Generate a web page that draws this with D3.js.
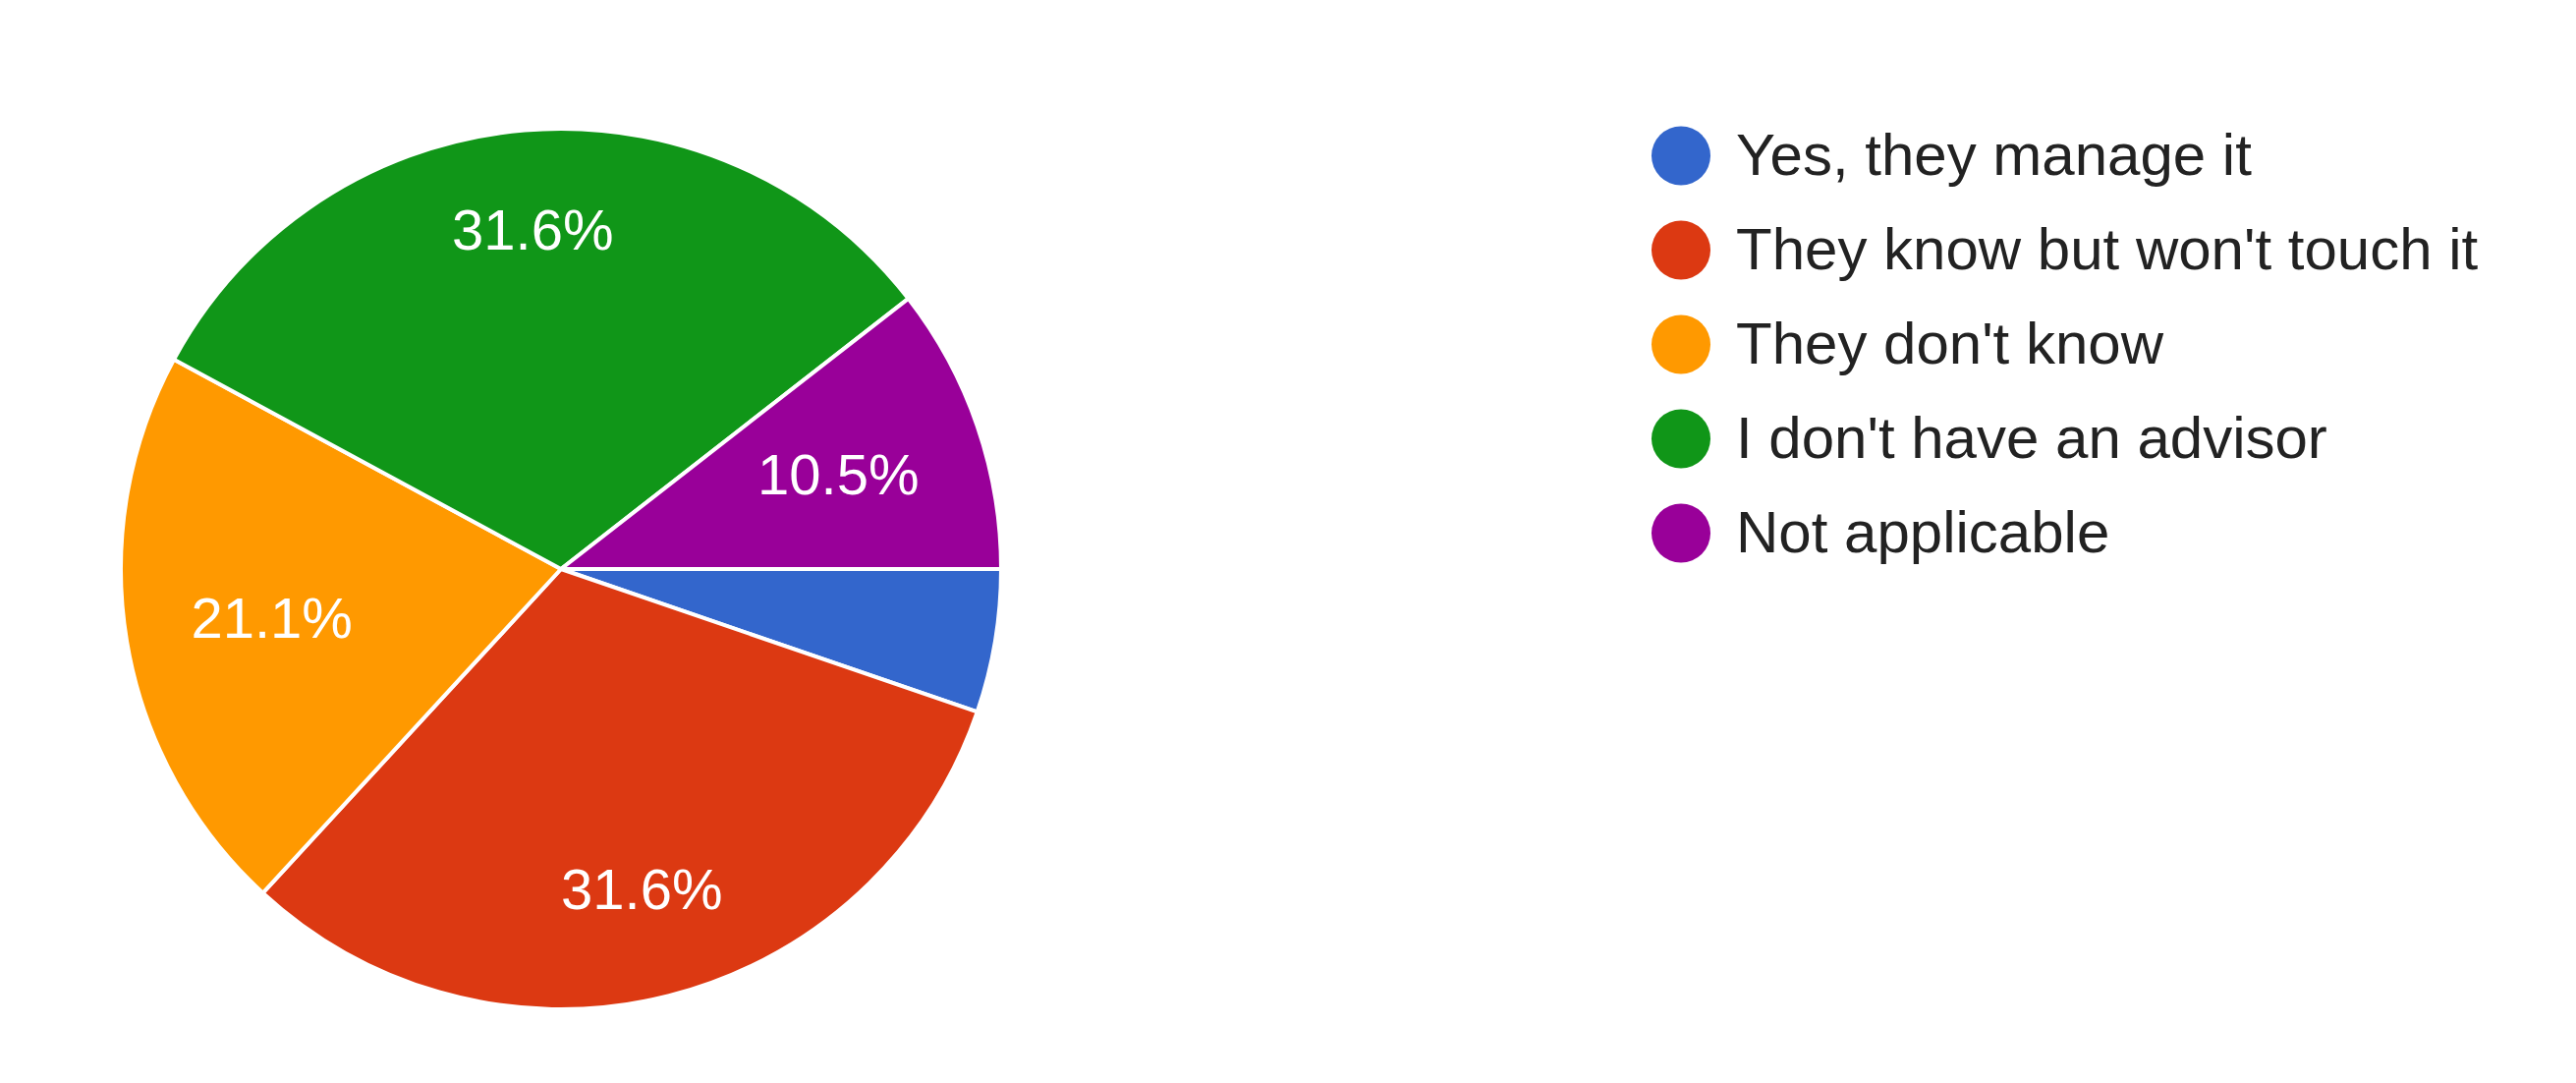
<!DOCTYPE html>
<html>
<head>
<meta charset="utf-8">
<script src="https://cdn.jsdelivr.net/npm/d3@7"></script>
<style>
  html, body { margin: 0; padding: 0; background: #ffffff; }
  svg { display: block; }
</style>
</head>
<body>
<svg id="chart" width="2622" height="1102"></svg>
<script>
// ---- data ----
const categories = ["Yes, they manage it", "They know but won't touch it", "They don't know", "I don't have an advisor", "Not applicable"];
const counts = [1, 6, 4, 6, 2];
const colors = ["#3366cc", "#dc3912", "#ff9900", "#109618", "#990099"];

// ---- layout ----
const W = 2622, H = 1102;
const cx = 571, cy = 579, R = 448;
const labelFont = 58, legendFont = 60;
const fontFamily = "Arial, 'Liberation Sans', Helvetica, sans-serif";
const hideBelow = 0.06;

const svg = d3.select("#chart");
const total = d3.sum(counts);
const data = categories.map((c, i) => ({ name: c, value: counts[i], color: colors[i] }));

const pie = d3.pie().sort(null).value(d => d.value)
  .startAngle(Math.PI / 2).endAngle(Math.PI / 2 + 2 * Math.PI);
const arc = d3.arc().innerRadius(0).outerRadius(R);
const arcs = pie(data);

const g = svg.append("g").attr("transform", `translate(${cx},${cy})`);
g.selectAll("path.slice").data(arcs).enter().append("path")
  .attr("class", "slice")
  .attr("d", arc)
  .attr("fill", d => d.data.color)
  .attr("stroke", "#ffffff")
  .attr("stroke-width", 4)
  .attr("stroke-linejoin", "round");

// labels: place along bisector so the farthest text-box corner sits at D
const D = 0.855 * R;
const fmt = v => (v / total * 100).toFixed(1) + "%";
arcs.forEach(a => {
  const frac = a.data.value / total;
  if (frac < hideBelow) return;
  const t = g.append("text")
    .attr("fill", "#ffffff")
    .attr("font-family", fontFamily)
    .attr("font-size", labelFont)
    .attr("text-anchor", "middle")
    .text(fmt(a.data.value));
  const hw = t.node().getComputedTextLength() / 2;
  const hh = 0.358 * labelFont;
  const mid = (a.startAngle + a.endAngle) / 2;
  const ux = Math.sin(mid), uy = -Math.cos(mid);
  const b = hw * Math.abs(ux) + hh * Math.abs(uy);
  const c = hw * hw + hh * hh - D * D;
  const r = -b + Math.sqrt(b * b - c);
  const x = r * ux, y = r * uy;
  t.attr("x", x).attr("y", y + hh);
});

// legend
const legendX = 1711, legendTextX = 1767, legendY0 = 178, legendStep = 96, dotR = 30;
const lg = svg.append("g");
data.forEach((d, i) => {
  const by = legendY0 + i * legendStep;
  lg.append("circle").attr("cx", legendX).attr("cy", by - 19.5).attr("r", dotR).attr("fill", d.color);
  lg.append("text").attr("x", legendTextX).attr("y", by)
    .attr("font-family", fontFamily).attr("font-size", legendFont)
    .attr("fill", "#222222").text(d.name);
});
</script>
</body>
</html>
